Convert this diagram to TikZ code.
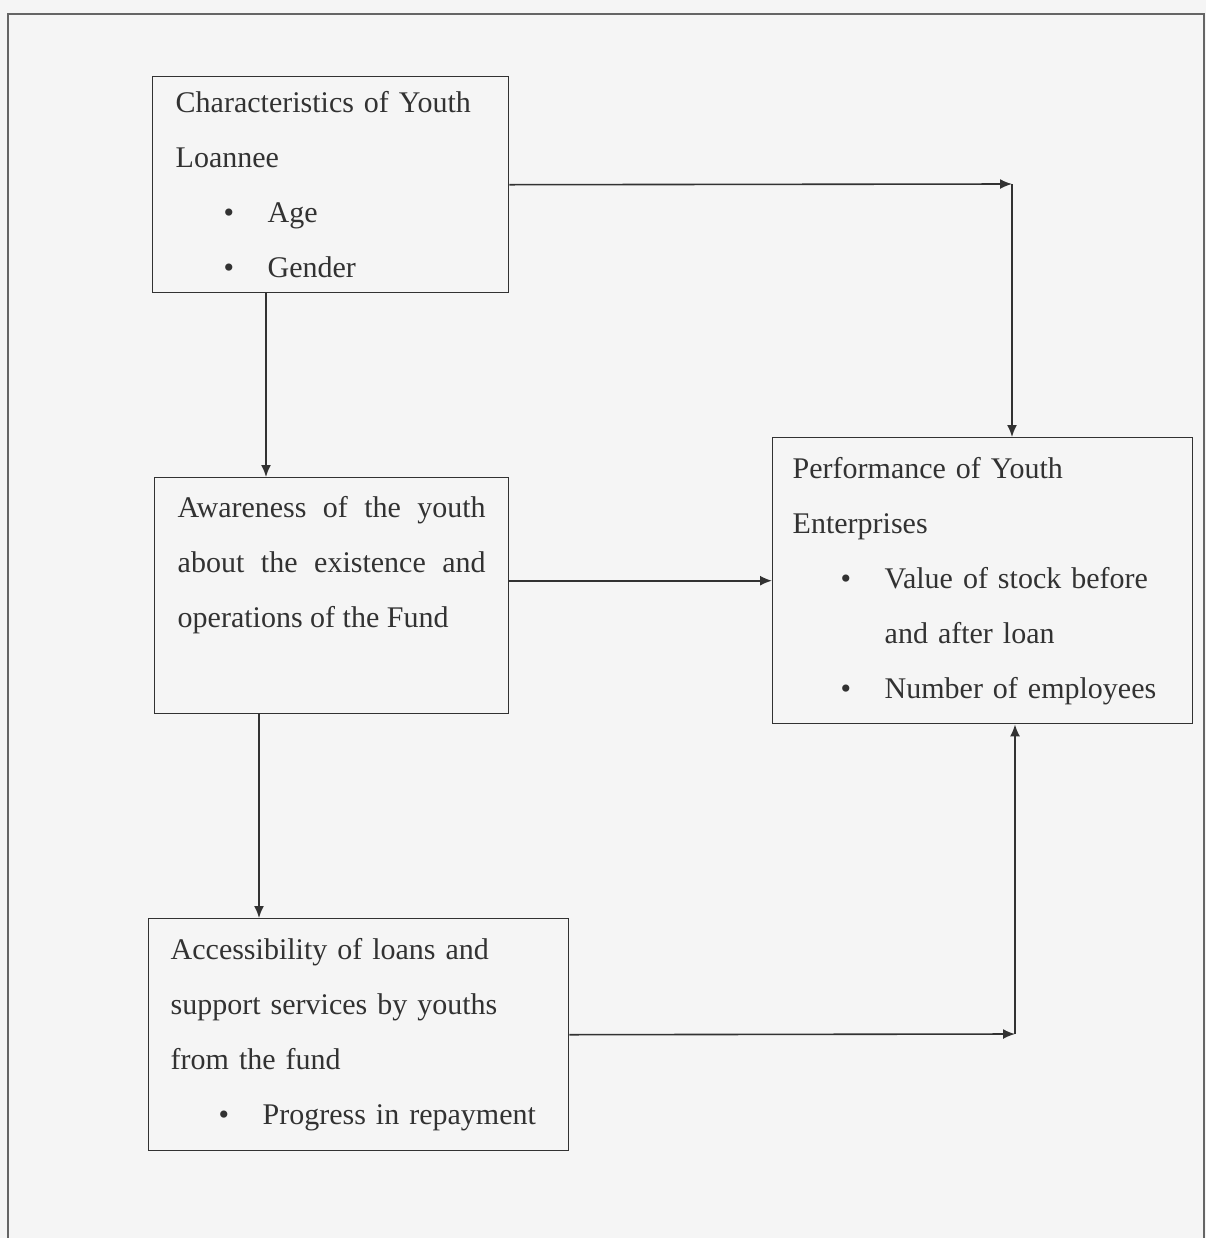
\documentclass[tikz,border=0pt]{standalone}
\usepackage{fontspec}
\setmainfont{Liberation Serif}
\usepackage{xcolor}
\usepackage{tikz}
\usetikzlibrary{arrows.meta, positioning}
\definecolor{inkgrey}{RGB}{50, 50, 50}
\definecolor{scangrey}{RGB}{245, 245, 245}
\newcommand{\bul}[1]{\hspace*{24pt}\makebox[22pt][l]{\textbullet}#1}

\begin{document}
\begin{tikzpicture}[x=0.5pt, y=-0.5pt,
  box/.style={rectangle, draw=inkgrey, line width=0.7pt, fill=scangrey, anchor=north west, align=left, inner ysep=4pt, text=inkgrey, font=\fontsize{15pt}{27.5pt}\selectfont},
  line/.style={draw=inkgrey, line width=0.8pt, -{Latex[length=6pt, width=5pt]}}]

  \fill [scangrey] (0,0) rectangle (1206,1238);
  \useasboundingbox (0,0) rectangle (1206,1238);
  \draw [inkgrey!75, line width=0.7pt] (8,1238) -- (8,14) -- (1204,14) -- (1204,1238);

  \node [box, inner xsep=11.5pt, text width=155pt, minimum height=108pt] (traits) at (152,76) {Characteristics of Youth\\ Loannee\\ \bul{Age}\\ \bul{Gender}};
  \node [box, align=justify, inner xsep=11.5pt, text width=154pt, minimum height=118pt] (aware) at (154,477) {Awareness of the youth\linebreak about the existence and\linebreak operations of the Fund\\[6pt]\mbox{}};
  \node [box, inner xsep=11pt, text width=188pt, minimum height=116pt] (access) at (148,918) {Accessibility of loans and\\ support services by youths\\ from the fund\\ \bul{Progress in repayment}};
  \node [box, inner xsep=10pt, text width=190pt, minimum height=143pt] (perf) at (772,437) {Performance of Youth\\ Enterprises\\ \bul{Value of stock before}\\ \hspace*{46pt}and after loan\\ \bul{Number of employees}};

  \coordinate (topjoin) at (1012,184);
  \coordinate (botjoin) at (1015,1034);

  \draw [line] (traits.east) -- (topjoin);
  \draw [line] (topjoin) -- (topjoin |- perf.north);
  \draw [line] ([xshift=57pt]traits.south west) -- ([xshift=57pt]traits.south west |- aware.north);
  \draw [line] ([xshift=52.5pt]aware.south west) -- ([xshift=52.5pt]aware.south west |- access.north);
  \draw [line] (aware.east |- perf.west) -- (perf.west);
  \draw [line] (access.east) -- (botjoin);
  \draw [line] (botjoin) -- (botjoin |- perf.south);

\end{tikzpicture}
\end{document}
